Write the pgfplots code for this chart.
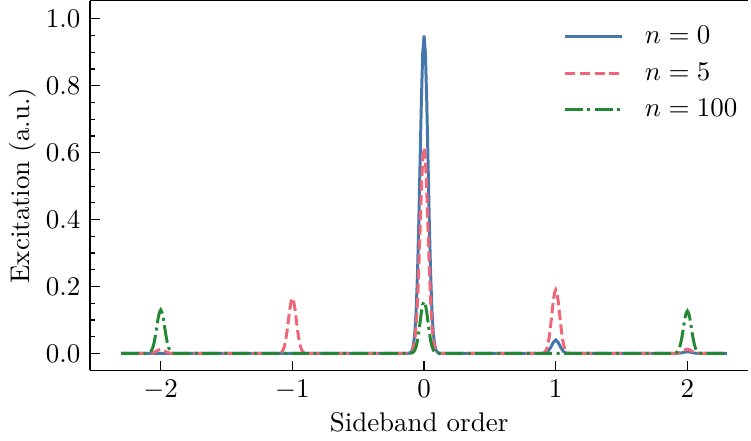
\documentclass[border=0pt]{standalone}
\usepackage{pgfplots}
\pgfplotsset{compat=1.18}
\definecolor{tblue}{HTML}{4477AA}
\definecolor{tred}{HTML}{EE6677}
\definecolor{tgreen}{HTML}{228833}
\begin{document}
\begin{tikzpicture}
\begin{axis}[
  scale only axis,
  width=244pt, height=137pt,
  xmin=-2.538, xmax=2.462,
  ymin=-0.0507, ymax=1.054,
  axis x line=box, axis y line=left,
  axis line style={-, line width=0.55pt},
  xtick={-2,-1,0,1,2},
  ytick={0,0.2,0.4,0.6,0.8,1.0},
  minor y tick num=3,
  xtick pos=bottom, ytick pos=left,
  tick align=inside,
  major tick length=3.6pt, minor tick length=2pt,
  every tick/.style={black, line width=0.45pt},
  yticklabel style={/pgf/number format/fixed, /pgf/number format/fixed zerofill, /pgf/number format/precision=1},
  xlabel={Sideband order}, ylabel={Excitation (a.u.)},
  xlabel style={yshift=2.2pt},
  ylabel style={yshift=-3.2pt},
  legend style={draw=none, fill=none, at={(1.005,0.962)}, anchor=north east, row sep=1.6pt, column sep=6pt, font=\normalsize},
  legend cell align=left,
  legend image code/.code={\draw[#1, line width=1.1pt] (0pt,0pt) -- (21pt,0pt);},
  every axis plot/.append style={line width=1.1pt},
]
\addplot[tblue, solid] coordinates {
(-2.3,0) (-0.12,0) (-0.1,0.0037) (-0.09,0.0105) (-0.08,0.0272) (-0.07,0.0624) (-0.06,0.128) (-0.05,0.237) (-0.04,0.390) (-0.03,0.577) (-0.02,0.761) (-0.01,0.899) (0,0.95) (0.01,0.899) (0.02,0.761) (0.03,0.577) (0.04,0.390) (0.05,0.237) (0.06,0.128) (0.07,0.0624) (0.08,0.0272) (0.09,0.0105) (0.1,0.0037) (0.12,0)
(0.9,0) (0.92,0.0011) (0.94,0.0054) (0.96,0.0164) (0.98,0.032) (1,0.04) (1.02,0.032) (1.04,0.0164) (1.06,0.0054) (1.08,0.0011) (1.1,0)
(1.9,0) (1.94,0.0007) (1.96,0.002) (1.98,0.004) (2,0.005) (2.02,0.004) (2.04,0.002) (2.06,0.0007) (2.1,0) (2.3,0)
};
\addlegendentry{$n=0$}
\addplot[tred, dash pattern=on 3.8pt off 1.65pt] coordinates {
(-2.3,0) (-2.1,0) (-2.08,0.0003) (-2.06,0.0016) (-2.04,0.0049) (-2.02,0.0096) (-2,0.012) (-1.98,0.0096) (-1.96,0.0049) (-1.94,0.0016) (-1.92,0.0003) (-1.9,0)
(-1.12,0) (-1.1,0.0006) (-1.09,0.0018) (-1.08,0.0047) (-1.07,0.0108) (-1.06,0.0223) (-1.05,0.0411) (-1.04,0.0678) (-1.03,0.100) (-1.02,0.132) (-1.01,0.156) (-1,0.165) (-0.99,0.156) (-0.98,0.132) (-0.97,0.100) (-0.96,0.0678) (-0.95,0.0411) (-0.94,0.0223) (-0.93,0.0108) (-0.92,0.0047) (-0.91,0.0018) (-0.9,0.0006) (-0.88,0)
(-0.12,0) (-0.1,0.0024) (-0.09,0.0068) (-0.08,0.0176) (-0.07,0.0404) (-0.06,0.0830) (-0.05,0.153) (-0.04,0.253) (-0.03,0.373) (-0.02,0.493) (-0.01,0.582) (0,0.615) (0.01,0.582) (0.02,0.493) (0.03,0.373) (0.04,0.253) (0.05,0.153) (0.06,0.0830) (0.07,0.0404) (0.08,0.0176) (0.09,0.0068) (0.1,0.0024) (0.12,0)
(0.88,0) (0.9,0.0007) (0.91,0.0021) (0.92,0.0054) (0.93,0.0125) (0.94,0.0257) (0.95,0.0473) (0.96,0.0781) (0.97,0.115) (0.98,0.152) (0.99,0.180) (1,0.19) (1.01,0.180) (1.02,0.152) (1.03,0.115) (1.04,0.0781) (1.05,0.0473) (1.06,0.0257) (1.07,0.0125) (1.08,0.0054) (1.09,0.0021) (1.1,0.0007) (1.12,0)
(1.9,0) (1.92,0.0004) (1.94,0.0018) (1.96,0.0053) (1.98,0.0104) (2,0.013) (2.02,0.0104) (2.04,0.0053) (2.06,0.0018) (2.08,0.0004) (2.1,0) (2.3,0)
};
\addlegendentry{$n=5$}
\addplot[tgreen, dash pattern=on 6.6pt off 1.65pt on 1.1pt off 1.65pt] coordinates {
(-2.3,0) (-2.12,0) (-2.1,0.0005) (-2.09,0.0014) (-2.08,0.0037) (-2.07,0.0085) (-2.06,0.0176) (-2.05,0.0324) (-2.04,0.0534) (-2.03,0.0789) (-2.02,0.104) (-2.01,0.123) (-2,0.13) (-1.99,0.123) (-1.98,0.104) (-1.97,0.0789) (-1.96,0.0534) (-1.95,0.0324) (-1.94,0.0176) (-1.93,0.0085) (-1.92,0.0037) (-1.91,0.0014) (-1.9,0.0005) (-1.88,0)
(-0.12,0) (-0.1,0.0006) (-0.09,0.0017) (-0.08,0.0044) (-0.07,0.0102) (-0.06,0.0209) (-0.05,0.0386) (-0.04,0.0637) (-0.03,0.0941) (-0.02,0.124) (-0.01,0.147) (0,0.155) (0.01,0.147) (0.02,0.124) (0.03,0.0941) (0.04,0.0637) (0.05,0.0386) (0.06,0.0209) (0.07,0.0102) (0.08,0.0044) (0.09,0.0017) (0.1,0.0006) (0.12,0)
(1.88,0) (1.9,0.0005) (1.91,0.0014) (1.92,0.0036) (1.93,0.0083) (1.94,0.0171) (1.95,0.0316) (1.96,0.0522) (1.97,0.0771) (1.98,0.102) (1.99,0.120) (2,0.127) (2.01,0.120) (2.02,0.102) (2.03,0.0771) (2.04,0.0522) (2.05,0.0316) (2.06,0.0171) (2.07,0.0083) (2.08,0.0036) (2.09,0.0014) (2.1,0.0005) (2.12,0) (2.3,0)
};
\addlegendentry{$n=100$}
\end{axis}
\end{tikzpicture}
\end{document}
